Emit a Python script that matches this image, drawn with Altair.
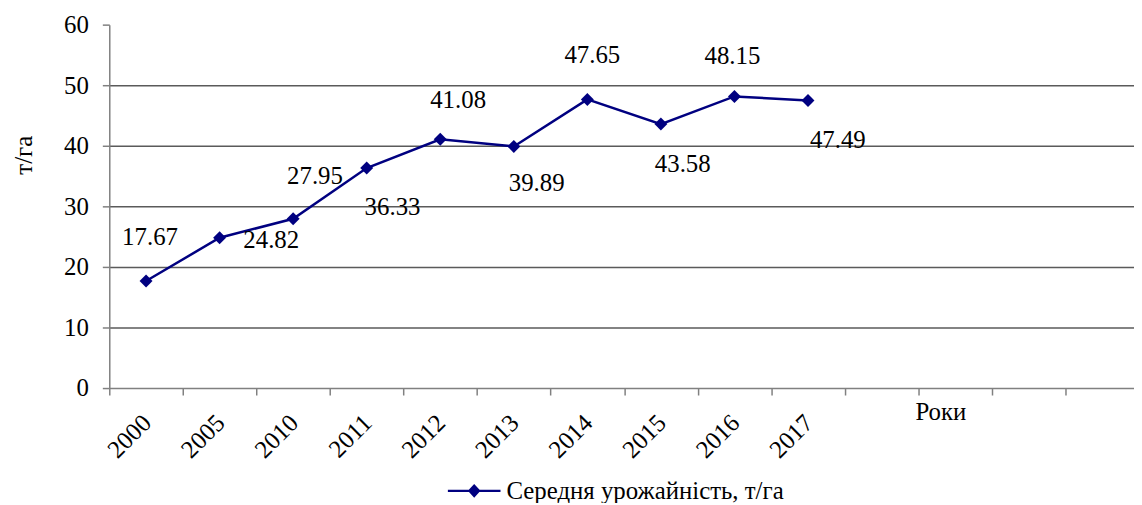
import altair as alt
import pandas as pd

years = ["2000", "2005", "2010", "2011", "2012", "2013", "2014", "2015", "2016", "2017"]
values = [17.67, 24.82, 27.95, 36.33, 41.08, 39.89, 47.65, 43.58, 48.15, 47.49]
empty_slots = [" ", "  ", "   ", "    "]
y_ticks = [0, 10, 20, 30, 40, 50, 60]
series_name = "Середня урожайність, т/га"
x_title = "Роки"
y_title = "т/га"

# label placement (dx, dy) per point, style only
label_offsets = [(4, -44), (52, 2), (22, -43), (26, 39), (18, -39),
                 (23, 37), (5, -45), (22, 40), (-2, -41), (30, 40)]

FONT = "Liberation Serif"
FS = 25
NAVY = "#000080"

df = pd.DataFrame({"year": years, "value": values, "series": [series_name] * len(years)})
domain = years + empty_slots

x_enc = alt.X(
    "year:N",
    sort=domain,
    scale=alt.Scale(type="band", domain=domain, paddingInner=0, paddingOuter=0, range=[0, 1037]),
    axis=alt.Axis(
        title=x_title, titleX=837, titleY=24, titleAlign="center", titleBaseline="middle",
        titleFont=FONT, titleFontSize=FS, titleFontWeight="normal", titleColor="black",
        labelAngle=-45, labelFont=FONT, labelFontSize=FS, labelColor="black",
        labelPadding=15, labelOffset=-8, tickBand="extent", tickSize=7, tickColor="#808080", tickWidth=1.5,
        domainColor="#808080", domainWidth=1.5, grid=False,
    ),
)
y_enc = alt.Y(
    "value:Q",
    scale=alt.Scale(domain=[0, 60], nice=False),
    axis=alt.Axis(
        values=y_ticks, title=y_title, titleX=-86, titleY=131, titleAngle=270,
        titleAlign="center", titleBaseline="middle",
        titleFont=FONT, titleFontSize=FS, titleFontWeight="normal", titleColor="black",
        labelFont=FONT, labelFontSize=FS, labelColor="black", labelPadding=14,
        tickSize=7, tickColor="#808080", tickWidth=1.5,
        domainColor="#808080", domainWidth=1.5,
        grid=True, gridColor="#5a5a5a", gridWidth=1.5,
        gridOpacity={"condition": {"test": "datum.value === 60 || datum.value === 0", "value": 0}, "value": 1},
    ),
)

base = alt.Chart(df).encode(x=x_enc, y=y_enc)

line = base.mark_line(color=NAVY, strokeWidth=2.5)
points = base.mark_point(shape="diamond", filled=True, size=170, opacity=1).encode(
    color=alt.Color(
        "series:N",
        scale=alt.Scale(domain=[series_name], range=[NAVY]),
        legend=alt.Legend(
            title=None, orient="none", legendX=340, legendY=442,
            symbolType="M-1,-0.045H1V0.045H-1Z M-0.24,0L0,-0.26L0.24,0L0,0.26Z",
            symbolSize=2809, symbolFillColor=NAVY, symbolOpacity=1,
            labelFont=FONT, labelFontSize=FS, labelColor="black", labelLimit=600,
            labelOffset=5, padding=0,
        ),
    )
)

labels = []
for yr, (dx, dy) in zip(years, label_offsets):
    labels.append(
        base.transform_filter(alt.datum.year == yr)
        .mark_text(font=FONT, fontSize=FS, color="black", dx=dx, dy=dy, align="center", baseline="middle")
        .encode(text=alt.Text("value:Q", format=".2f"))
    )

chart = alt.layer(line, points, *labels).properties(
    width=1032, height=366,
    autosize=alt.AutoSizeParams(type="none"),
    padding={"left": 102, "top": 15, "right": 0, "bottom": 114},
).configure_view(stroke=None)

chart.save("out.html", embed_options={"renderer": "svg", "actions": False})
